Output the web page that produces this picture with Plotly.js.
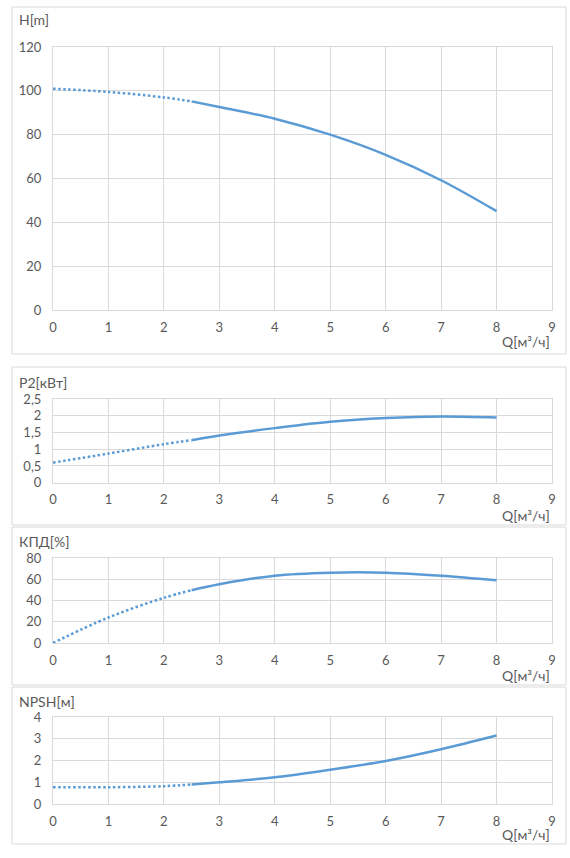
<!DOCTYPE html>
<html>
<head>
<meta charset="utf-8">
<script src="https://cdn.plot.ly/plotly-3.0.1.min.js"></script>
<style>html,body{margin:0;padding:0;background:#fff;}#chart{width:570px;height:858px;}</style>
</head>
<body>
<div id="chart"></div>
<script>
// Data
const flowQ   = [0, 1, 2, 2.5, 3, 4, 5, 6, 7, 8];
const headH   = [101, 99.5, 97, 95.2, 92.6, 87.3, 80, 70.8, 59.2, 45.1];
const powerP2 = [0.6, 0.87, 1.15, 1.27, 1.41, 1.63, 1.82, 1.93, 1.98, 1.95];
const effKPD  = [0, 24, 42.5, 49.7, 55.3, 63.4, 66.2, 66.2, 63.4, 59];
const npsh    = [0.77, 0.77, 0.82, 0.9, 1.0, 1.23, 1.58, 1.98, 2.52, 3.15];
const splitIdx = 3; // Q = 2.5: dotted before, solid after

const yTitles = ['H[m]', 'P2[кВт]', 'КПД[%]', 'NPSH[м]'];
const xTitle = 'Q[м³/ч]';
const xTicks = [0,1,2,3,4,5,6,7,8,9];
const yRanges = [[0,120],[0,2.5],[0,80],[0,4]];
const yDtick = [20, 0.5, 20, 1];

const W = 570, H = 858;
const LINE = '#5b9bd5', GRID = '#d9d9d9', TXT = '#595959';
const FONT = 'Lato, "Open Sans", sans-serif';

// pixel geometry: [plotTop, plotBottom, boxTop, boxBottom, titleY, qLabelY]
const geo = [
  [47, 310, 7, 354, 20, 342],
  [399, 482.7, 367, 525, 383, 515],
  [558, 643, 527, 685, 541.5, 675],
  [717, 804, 687, 844, 701.5, 834]
];
const plotL = 53, plotR = 552, boxL = 12, boxR = 566;
const px = v => v / W, py = v => 1 - v / H;

const series = [headH, powerP2, effKPD, npsh];
const traces = [];
const layout = {
  width: W, height: H,
  margin: {l:0, r:0, t:0, b:0},
  paper_bgcolor: '#fff', plot_bgcolor: '#fff',
  showlegend: false,
  separators: ', ',
  font: {family: FONT, color: TXT, size: 13},
  shapes: [], annotations: []
};

series.forEach((vals, i) => {
  const n = i === 0 ? '' : String(i + 1);
  const xa = 'x' + n, ya = 'y' + n;
  traces.push({
    x: flowQ.slice(0, splitIdx + 1), y: vals.slice(0, splitIdx + 1),
    xaxis: xa, yaxis: ya, mode: 'lines', hoverinfo: 'skip',
    line: {color: LINE, width: 2.5, dash: '2.5px,2.5px', shape: 'spline'}
  });
  traces.push({
    x: flowQ.slice(splitIdx), y: vals.slice(splitIdx),
    xaxis: xa, yaxis: ya, mode: 'lines', hoverinfo: 'skip',
    line: {color: LINE, width: 2.5, shape: 'spline'}
  });
  const g = geo[i];
  layout['xaxis' + n] = {
    domain: [px(plotL), px(plotR)], anchor: ya,
    range: [0, 9], tickvals: xTicks, showgrid: true, gridcolor: GRID, gridwidth: 1,
    zeroline: false, showline: true, linecolor: GRID, mirror: true,
    ticks: '', ticklabelstandoff: 5, tickfont: {family: FONT, color: TXT, size: 13},
    fixedrange: true
  };
  layout['yaxis' + n] = {
    domain: [py(g[1]), py(g[0])], anchor: xa,
    range: yRanges[i], dtick: yDtick[i], tick0: 0,
    showgrid: true, gridcolor: GRID, gridwidth: 1,
    zeroline: false, showline: true, linecolor: GRID, mirror: true,
    ticks: '', ticklabelstandoff: 8, tickfont: {family: FONT, color: TXT, size: 13},
    fixedrange: true
  };
  layout.shapes.push({
    type: 'rect', xref: 'paper', yref: 'paper', layer: 'below',
    x0: px(boxL), x1: px(boxR), y0: py(g[3]), y1: py(g[2]),
    line: {color: GRID, width: 1}, fillcolor: 'rgba(0,0,0,0)'
  });
  layout.annotations.push({
    xref: 'paper', yref: 'paper', x: px(17), y: py(g[4]),
    xanchor: 'left', yanchor: 'middle', showarrow: false,
    text: yTitles[i], font: {family: FONT, color: TXT, size: 14}
  });
  layout.annotations.push({
    xref: 'paper', yref: 'paper', x: px(plotR), y: py(g[5]),
    xanchor: 'right', yanchor: 'middle', showarrow: false,
    text: xTitle, font: {family: FONT, color: TXT, size: 14}
  });
});

Plotly.newPlot('chart', traces, layout, {displayModeBar: false, staticPlot: true});
</script>
</body>
</html>
